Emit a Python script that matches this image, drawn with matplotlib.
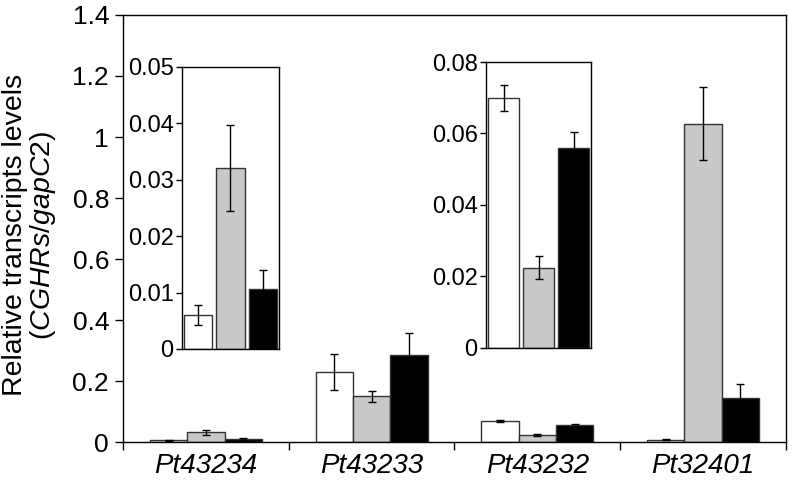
import matplotlib
matplotlib.use("Agg")
import matplotlib.pyplot as plt
import numpy as np

plt.rcParams['font.family'] = ['Liberation Sans', 'DejaVu Sans']
plt.rcParams['mathtext.fontset'] = 'custom'
plt.rcParams['mathtext.rm'] = 'Liberation Sans'
plt.rcParams['mathtext.it'] = 'Liberation Sans:italic'

genes = ['Pt43234', 'Pt43233', 'Pt43232', 'Pt32401']
white = [0.006, 0.230, 0.070, 0.008]
gray = [0.032, 0.150, 0.0224, 1.043]
black = [0.0107, 0.286, 0.0558, 0.143]
white_err = [0.0018, 0.058, 0.0037, 0.002]
gray_err = [0.0076, 0.018, 0.0032, 0.120]
black_err = [0.0033, 0.070, 0.0045, 0.046]

main_yticks = [0, 0.2, 0.4, 0.6, 0.8, 1.0, 1.2, 1.4]
inset1_yticks = [0, 0.01, 0.02, 0.03, 0.04, 0.05]
inset2_yticks = [0, 0.02, 0.04, 0.06, 0.08]

colors = ['white', '#c8c8c8', 'black']
edge = '#333333'


def fmt(v):
    return '%g' % v


fig = plt.figure(figsize=(7.96, 4.87), dpi=100)
ax = fig.add_axes([0.1545, 0.0924, 0.8329, 0.8768])

x = np.arange(len(genes))
w = 0.225
series = [(white, white_err), (gray, gray_err), (black, black_err)]
for i, (vals, errs) in enumerate(series):
    ax.bar(x + (i - 1) * w, vals, w, color=colors[i], edgecolor=edge, linewidth=1, zorder=2)
    ax.errorbar(x + (i - 1) * w, vals, yerr=errs, fmt='none', ecolor='black',
                elinewidth=1, capsize=3, capthick=1, zorder=3)

ax.set_xlim(-0.5, 3.5)
ax.set_ylim(0, 1.4)
ax.set_yticks(main_yticks)
ax.set_yticklabels([fmt(v) for v in main_yticks], fontsize=19)
ax.set_xticks(x)
ax.set_xticklabels(genes, fontsize=20, style='italic')
ax.set_xticks(np.arange(-0.5, 4, 1), minor=True)
ax.tick_params(axis='x', which='major', length=0, pad=8)
ax.tick_params(axis='x', which='minor', length=6, direction='out', width=1)
ax.tick_params(axis='y', length=6, direction='out', width=1, pad=4)
for s in ax.spines.values():
    s.set_linewidth(1)
ax.set_ylabel('Relative transcripts levels\n($\\mathit{CGHRs}$/$\\mathit{gapC2}$)', fontsize=20.5,
              linespacing=1.0)
ax.yaxis.set_label_coords(-0.098, 0.485)


def inset(rect, idx, yticks):
    a = fig.add_axes(rect)
    xi = np.arange(3)
    vals = [white[idx], gray[idx], black[idx]]
    errs = [white_err[idx], gray_err[idx], black_err[idx]]
    a.bar(xi, vals, 0.88, color=colors, edgecolor=edge, linewidth=1, zorder=2)
    a.errorbar(xi, vals, yerr=errs, fmt='none', ecolor='black', elinewidth=1,
               capsize=3, capthick=1, zorder=3)
    a.set_xlim(-0.5, 2.5)
    a.set_ylim(yticks[0], yticks[-1])
    a.set_yticks(yticks)
    a.set_yticklabels([fmt(v) for v in yticks], fontsize=17)
    a.set_xticks([])
    a.tick_params(axis='y', length=4, direction='out', width=1, pad=2)
    for s in a.spines.values():
        s.set_linewidth(1)
    return a


inset([0.2286, 0.2834, 0.1219, 0.5797], 0, inset1_yticks)
inset([0.6106, 0.2860, 0.1319, 0.5866], 2, inset2_yticks)

fig.savefig('out.png', dpi=100)
